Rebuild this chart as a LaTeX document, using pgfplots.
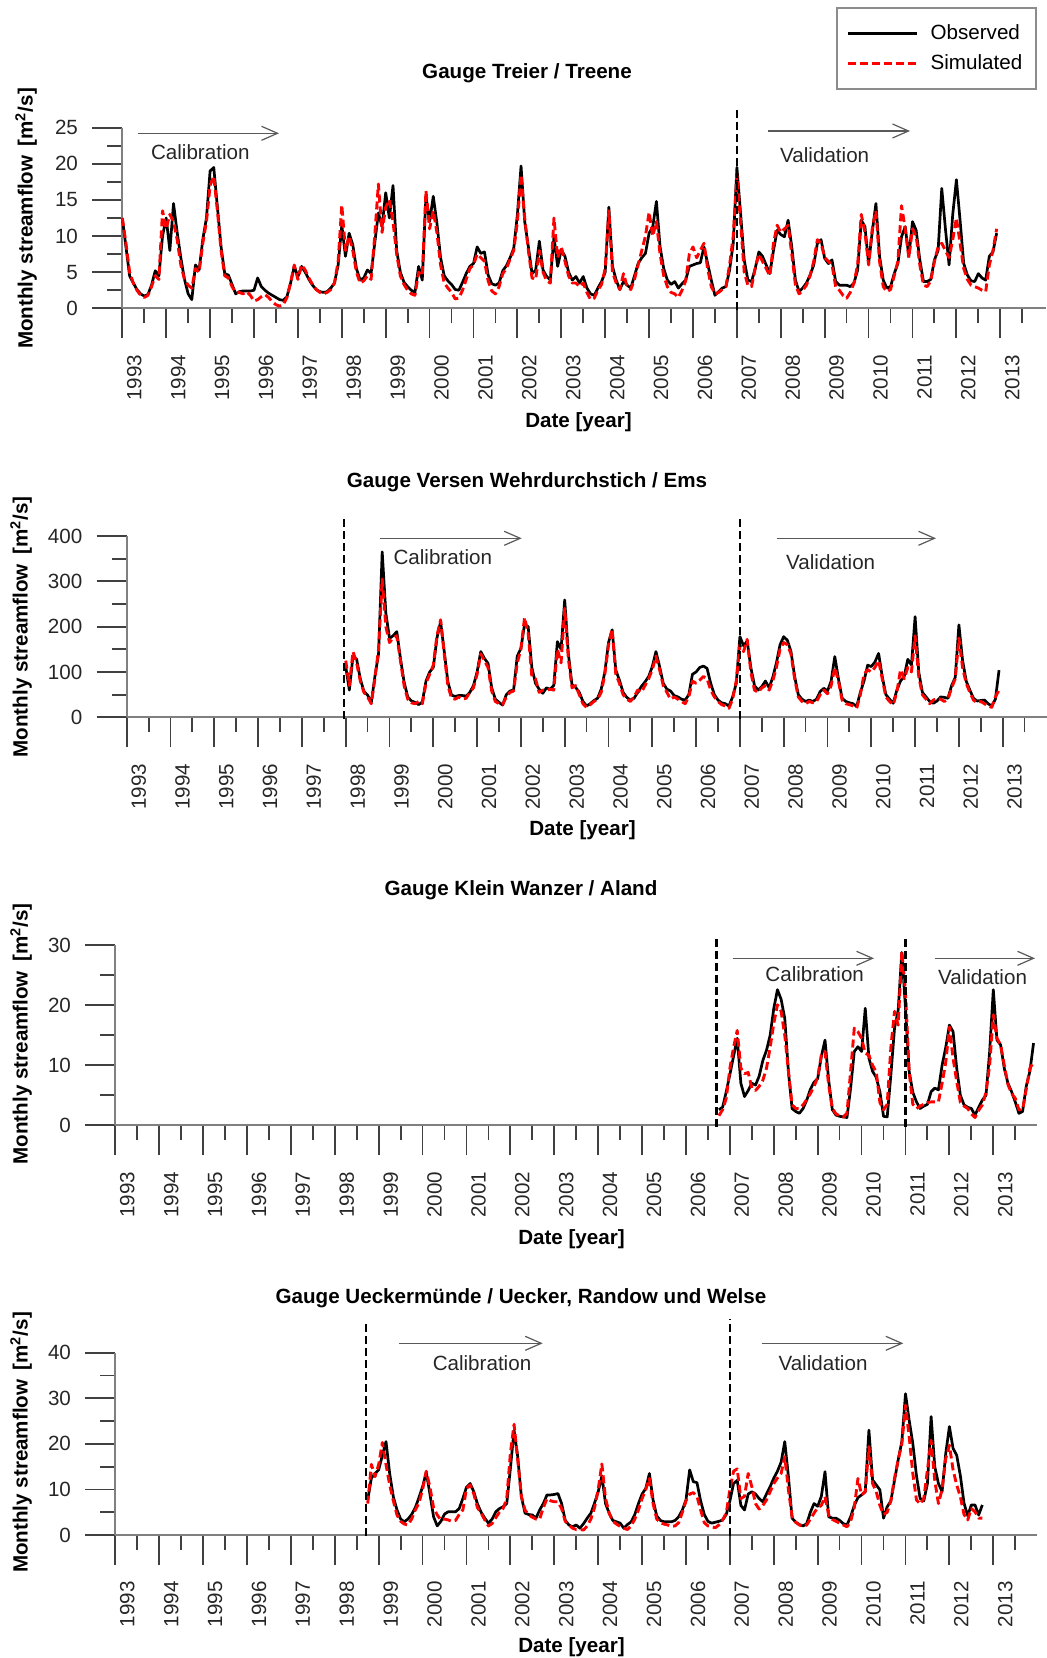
\documentclass[border=0pt]{standalone}
\usepackage{pgfplots}
\pgfplotsset{compat=1.18}
\usepackage{pgfplotstable}
\usepackage{fontspec}
\setmainfont{Liberation Sans}
\usetikzlibrary{arrows.meta}

% Monthly streamflow, observed and simulated, one table per gauge
% Treier / Treene: Jan 1993 - Dec 2012
\pgfplotstableread{
obs sim
12.5 12.5
8.5 9.0
4.5 5.0
3.5 3.5
2.6 2.5
2.0 1.8
1.7 1.5
1.9 1.8
3.2 3.0
5.2 4.5
4.5 4.0
10.0 13.5
12.5 11.0
8.0 13.0
14.5 12.0
10.5 9.5
7.0 6.0
4.0 4.0
2.0 3.2
1.2 2.8
6.0 5.5
5.3 5.0
9.5 9.0
12.5 12.0
19.0 17.0
19.5 18.3
14.0 13.5
8.5 8.0
4.8 4.5
4.6 4.2
3.3 3.0
2.0 2.2
2.3 2.2
2.4 2.0
2.4 2.3
2.4 1.8
2.5 1.0
4.2 1.2
3.0 1.6
2.5 1.9
2.1 1.5
1.8 0.9
1.5 0.5
1.2 0.3
1.1 0.5
1.6 1.5
3.5 3.5
5.8 6.0
4.4 4.0
5.8 6.0
5.0 5.3
4.0 4.2
3.2 3.3
2.6 2.6
2.3 2.2
2.2 2.0
2.3 2.2
2.8 2.6
3.5 3.5
6.0 6.5
11.5 14.3
7.2 8.0
10.4 10.0
8.8 8.0
5.5 5.0
3.9 3.5
4.2 3.8
5.3 4.5
4.8 4.0
9.0 10.0
13.2 17.2
11.3 10.5
16.0 14.0
12.5 15.0
17.0 12.0
8.0 7.5
5.0 4.5
3.6 3.3
3.0 2.5
2.5 2.0
2.2 1.8
5.8 5.0
3.9 4.5
15.5 16.3
12.0 11.0
15.5 13.5
11.8 10.5
7.0 6.0
4.5 3.5
3.8 2.8
3.3 2.2
2.6 1.3
2.5 1.4
3.6 2.5
4.8 4.0
5.8 5.5
6.2 6.0
8.5 7.5
7.6 7.0
7.8 6.5
4.6 3.8
3.4 2.4
3.2 2.0
3.5 3.0
5.2 4.8
5.9 5.5
7.0 6.8
8.3 8.0
13.0 12.0
19.7 18.5
12.0 12.5
8.5 8.0
4.8 4.2
5.3 4.0
9.3 8.0
5.3 5.0
4.4 3.8
3.9 3.5
9.9 12.5
5.8 7.0
8.1 8.5
7.2 6.5
5.0 4.5
3.9 3.5
4.4 3.5
3.5 3.0
4.4 3.5
2.8 2.2
2.0 1.2
1.8 1.4
2.8 2.5
3.7 3.3
5.0 5.5
14.0 13.5
5.8 5.0
3.9 3.5
2.6 2.6
3.7 4.8
3.2 3.0
2.8 2.6
4.5 4.0
6.2 6.0
7.0 8.0
7.6 10.0
10.4 13.3
11.3 10.0
14.8 12.0
8.5 7.5
5.5 4.5
3.9 3.0
3.3 2.2
3.7 2.0
2.8 1.5
3.4 2.5
3.9 3.8
5.8 7.5
6.0 8.5
6.2 7.0
6.3 8.0
8.5 9.0
6.2 5.5
3.9 3.0
1.8 2.0
2.3 2.2
2.8 2.6
3.0 3.0
5.3 6.0
9.0 10.0
19.5 18.5
13.2 12.0
6.7 5.0
3.9 3.2
3.7 3.0
5.5 5.5
7.8 7.5
7.2 6.5
6.0 5.5
4.8 4.5
8.0 9.0
10.8 11.5
10.2 10.5
9.9 11.0
12.2 11.5
8.5 7.5
3.9 3.2
2.3 2.0
2.8 2.5
3.5 3.2
4.6 4.5
6.0 6.5
9.0 9.5
9.5 9.0
6.9 7.0
6.2 6.5
6.7 6.0
3.7 3.0
3.2 2.5
3.2 1.8
3.2 1.4
3.0 2.2
3.5 3.5
5.3 6.0
12.2 13.0
11.3 10.5
6.2 6.0
10.6 11.0
14.5 13.5
7.2 6.5
3.9 3.0
2.8 2.3
3.0 2.6
4.8 4.5
6.2 6.5
9.9 14.2
11.3 11.0
7.2 7.0
12.0 11.0
10.8 10.0
6.7 6.0
3.7 3.2
3.7 3.0
4.0 3.8
6.7 6.5
8.0 8.5
16.6 9.0
11.0 8.0
6.0 7.0
13.0 9.5
17.8 12.5
12.2 9.0
6.2 5.5
4.6 4.0
3.8 3.2
3.7 3.0
4.8 2.8
4.2 2.5
3.9 2.3
7.2 6.0
7.8 8.0
10.4 11.0
}\treene

% Versen Wehrdurchstich / Ems: Jan 1998 - Dec 2012
\pgfplotstableread{
obs sim
112 125
60 70
135 145
128 120
85 80
57 55
49 45
32 30
90 85
140 150
365 305
230 200
174 165
180 175
189 180
130 125
78 70
45 40
36 32
33 30
28 35
34 30
80 75
100 95
110 115
175 180
211 215
145 140
78 70
49 42
46 40
48 45
48 40
47 42
55 55
70 65
100 95
145 140
130 125
119 110
65 58
40 35
33 30
27 28
50 45
58 55
60 58
135 120
152 150
205 220
200 185
110 90
75 85
62 55
53 60
65 60
62 62
70 60
167 150
150 120
259 240
140 130
72 65
66 70
55 50
35 30
25 22
30 28
37 35
42 40
62 55
100 95
165 160
193 195
104 95
82 75
55 50
44 40
38 35
42 45
55 60
68 55
78 70
90 85
112 105
145 135
112 105
75 70
62 55
58 40
48 45
45 40
40 35
38 30
50 45
95 80
100 75
110 82
113 90
108 85
75 60
50 45
38 35
32 28
30 25
25 20
45 40
75 80
178 160
158 145
168 172
110 100
70 60
60 55
68 65
80 70
65 60
88 80
120 110
160 150
178 165
170 160
145 140
90 85
50 45
40 35
35 30
38 35
35 32
40 35
57 50
64 60
58 52
80 70
134 110
85 80
42 38
35 30
32 28
30 25
24 20
55 50
80 95
115 105
112 100
122 110
141 125
90 85
50 45
40 35
31 28
60 55
80 105
90 85
128 110
115 100
222 180
100 90
55 50
45 40
35 30
31 38
36 42
45 40
44 35
42 40
70 65
88 85
204 175
126 110
80 75
60 55
42 38
36 32
37 35
38 30
30 25
25 22
40 45
104 60
}\ems

% Klein Wanzer / Aland: Oct 2006 - Dec 2013
\pgfplotstableread{
obs sim
2.6 1.6
3.0 2.6
5.6 4.5
8.5 9.5
11.5 13.0
14.5 15.8
7.0 9.5
4.8 8.6
5.8 8.8
7.0 6.2
6.7 5.8
8.2 6.5
10.8 7.5
12.5 9.5
15.0 13.0
19.5 17.0
22.6 20.1
21.0 19.0
17.8 15.0
8.9 9.0
2.8 3.4
2.3 2.8
2.0 2.8
2.8 3.4
4.2 4.3
6.0 5.3
7.2 6.5
7.8 8.0
11.5 11.7
14.2 12.3
7.5 6.7
2.6 2.8
1.7 1.9
1.5 1.6
1.4 1.4
1.3 2.0
6.2 9.0
12.3 16.2
13.1 15.6
12.3 14.5
19.5 12.0
11.2 11.7
9.0 10.0
8.0 8.9
5.6 3.8
1.5 2.6
1.4 3.5
8.4 13.0
16.2 19.0
19.2 16.7
28.8 29.0
19.5 22.3
9.0 8.9
5.5 3.5
3.9 2.8
2.8 3.2
3.2 3.5
3.5 3.8
5.6 3.9
6.2 3.9
5.9 3.9
10.0 7.0
13.0 10.5
16.7 16.4
15.6 11.2
9.5 7.3
5.0 3.8
3.4 3.2
3.0 2.8
2.8 1.9
1.7 1.3
3.0 2.5
4.2 3.4
5.0 5.5
12.3 10.0
22.6 18.4
14.2 14.5
13.4 13.4
9.5 10.0
7.0 6.8
5.6 5.3
3.9 4.5
2.0 2.6
2.3 2.6
6.5 6.0
9.0 9.5
13.7 10.5
}\aland

% Ueckermuende / Uecker, Randow und Welse: Oct 1998 - Oct 2012
\pgfplotstableread{
obs sim
7.7 6.9
12.5 15.5
13.5 12.8
14.3 15.5
17.5 20.3
20.5 15.5
13.5 11.0
8.4 7.5
5.5 4.4
3.5 3.0
2.9 2.4
3.5 2.2
4.5 3.5
6.0 5.5
8.2 7.0
10.6 10.0
13.8 14.0
9.0 10.5
4.0 6.0
2.0 4.4
3.0 3.3
4.6 3.5
5.1 3.3
5.1 3.0
5.1 3.2
5.8 4.5
8.0 5.5
10.5 10.2
11.3 11.0
9.5 9.0
6.8 6.0
5.0 4.8
3.7 3.3
2.6 2.0
3.5 2.5
5.1 3.8
5.8 5.0
6.2 5.8
6.9 8.0
14.6 18.0
23.0 24.3
17.2 16.5
8.4 8.5
4.8 5.5
4.5 4.4
4.4 3.9
3.7 3.5
5.5 3.5
6.9 6.0
8.8 8.0
8.8 7.5
8.9 7.3
9.1 7.3
6.9 5.8
3.2 3.0
2.2 2.2
1.8 1.5
2.2 1.2
1.5 1.2
2.5 1.1
3.7 2.0
4.8 3.5
7.0 6.0
9.5 10.0
13.0 15.6
6.9 8.0
4.8 4.8
3.2 3.0
2.9 2.4
2.6 1.9
1.5 1.5
2.3 1.2
2.9 2.0
4.5 3.5
6.9 5.5
9.0 8.0
10.2 10.0
13.5 12.4
7.7 6.9
4.2 3.5
3.2 2.7
2.9 2.4
2.9 2.2
2.9 1.9
3.2 2.0
4.0 2.7
5.5 5.0
7.7 7.5
14.3 9.0
11.7 9.3
11.5 8.5
7.5 5.5
4.5 2.7
3.0 2.0
2.6 1.8
2.8 1.6
3.0 2.2
3.3 3.3
4.5 4.8
7.5 10.0
11.3 14.0
12.0 14.5
6.5 8.0
5.5 8.5
9.0 13.5
9.5 10.6
9.0 6.9
8.0 5.7
7.3 6.5
9.0 7.7
10.6 9.5
12.5 11.3
14.0 12.5
16.0 13.5
20.5 17.2
12.8 9.9
3.7 4.0
2.8 2.8
2.3 2.2
2.0 1.9
2.5 2.2
5.0 3.5
6.9 4.8
6.3 6.0
8.5 6.5
13.9 8.4
4.0 4.4
3.7 3.4
3.7 3.0
3.2 2.6
2.5 2.2
2.2 1.8
4.0 3.0
6.5 6.0
8.2 12.4
8.8 8.8
9.5 9.5
23.0 19.4
12.1 11.3
11.0 9.5
9.9 6.5
3.7 4.5
6.2 5.0
7.5 7.5
12.0 12.5
16.5 16.5
20.5 20.0
31.0 28.5
25.2 21.6
20.1 13.5
13.0 7.7
8.0 6.8
7.5 8.0
11.3 14.3
26.0 20.8
15.0 12.0
11.3 6.9
9.5 10.0
17.9 16.8
23.8 19.7
19.0 14.3
17.5 11.0
13.0 8.4
7.0 4.5
4.2 3.3
6.6 5.8
6.6 5.1
4.4 3.7
6.6 3.7
}\uecker

\newcommand\txt{\fontsize{10.3}{12.4}\selectfont}

\tikzset{
  obsline/.style={black, line width=1.35pt, line join=round},
  simline/.style={red, line width=1.45pt, line join=round, dash pattern=on 4pt off 2pt},
  period/.style={black, line width=1.4pt, dash pattern=on 4pt off 2pt},
  span/.style={black!65, line width=0.6pt, -{Straight Barb[length=8pt,width=7pt]}},
  note/.style={font=\txt, text=black!85, inner sep=0pt},
  heading/.style={font=\txt\bfseries, inner sep=0pt},
}

\pgfplotsset{
  gauge/.style={
    scale only axis, anchor=south west, clip=false, no markers,
    axis x line*=bottom, axis y line*=left,
    xmin=1993,
    xtick={1993,...,2013},
    minor xtick={1993.5,1994.5,...,2013.5},
    tick align=outside,
    major tick length=15pt, minor tick length=7.5pt,
    tick style={black!75, line width=0.9pt},
    axis line style={black!50, line width=1pt},
    tick label style={font=\txt, text=black!85},
    xticklabel style={rotate=90, anchor=east, inner sep=0pt, yshift=-6pt},
    xticklabel shift=8pt,
    yticklabel style={inner sep=0pt},
    yticklabel shift=7pt,
    /pgf/number format/1000 sep={},
    /pgf/number format/assume math mode=true,
  },
}

\begin{document}
\begin{tikzpicture}[font=\txt]
\useasboundingbox (0,0) rectangle (523.5pt,-829pt);

% ---- Treier / Treene ----
\begin{axis}[gauge, at={(61.15pt,-154.15pt)}, width=462.05pt, height=90.3pt,
  xmax=2014.05, ymin=0, ymax=25,
  ytick={0,5,...,25}, minor ytick={2.5,7.5,...,22.5},
  legend style={at={(0.772,1.670)}, anchor=north west, draw=black!45,
    line width=1pt, inner xsep=5pt, inner ysep=6.3pt, row sep=2pt,
    font=\txt, cells={anchor=west},
    /tikz/every odd column/.append style={column sep=4pt}},
  legend image code/.code={\draw[#1] (0pt,0pt) -- (34.5pt,0pt);},
]
\addplot[obsline] table[x expr=1993+\coordindex/12, y=obs] {\treene};
\addplot[simline] table[x expr=1993+\coordindex/12, y=sim] {\treene};
\legend{Observed, Simulated}
\draw[period] (axis cs:2007,-0.3) -- (axis cs:2007,27.7);
\end{axis}
\node[heading] at (263.5pt,-36.5pt) {Gauge Treier / Treene};
\node[heading] at (289.25pt,-210.85pt) {Date [year]};
\node[heading, rotate=90] at (13pt,-109.25pt) {Monthly streamflow\, [m\textsuperscript{2}/s]};
\draw[span] (68.85pt,-66.65pt) -- (139.5pt,-66.65pt);
\node[note] at (100.15pt,-75.85pt) {Calibration};
\draw[span] (384.15pt,-65.5pt) -- (455pt,-65.5pt);
\node[note] at (412.35pt,-77.5pt) {Validation};

% ---- Versen Wehrdurchstich / Ems ----
\begin{axis}[gauge, at={(63.35pt,-358.65pt)}, width=459.9pt, height=90.65pt,
  xmax=2014.0, ymin=0, ymax=400,
  ytick={0,100,...,400}, minor ytick={50,150,...,350},
]
\addplot[obsline] table[x expr=1998+\coordindex/12, y=obs] {\ems};
\addplot[simline] table[x expr=1998+\coordindex/12, y=sim] {\ems};
\draw[period] (axis cs:1997.96,-3) -- (axis cs:1997.96,437);
\draw[period] (axis cs:2007,-3) -- (axis cs:2007,446);
\end{axis}
\node[heading] at (263.5pt,-241.35pt) {Gauge Versen Wehrdurchstich / Ems};
\node[heading] at (291.25pt,-415pt) {Date [year]};
\node[heading, rotate=90] at (10.5pt,-313.5pt) {Monthly streamflow\, [m\textsuperscript{2}/s]};
\draw[span] (190pt,-269.15pt) -- (260.85pt,-269.15pt);
\node[note] at (221.4pt,-278.35pt) {Calibration};
\draw[span] (388.35pt,-269.15pt) -- (468pt,-269.15pt);
\node[note] at (415.35pt,-280.85pt) {Validation};

% ---- Klein Wanzer / Aland ----
\begin{axis}[gauge, at={(57.65pt,-562.65pt)}, width=460.95pt, height=90pt,
  xmax=2014.0, ymin=0, ymax=30,
  ytick={0,10,20,30}, minor ytick={5,15,25},
]
\addplot[obsline] table[x expr=2006.75+\coordindex/12, y=obs] {\aland};
\addplot[simline] table[x expr=2006.75+\coordindex/12, y=sim] {\aland};
\draw[period] (axis cs:2006.70,-0.2) -- (axis cs:2006.70,31.0);
\draw[period] (axis cs:2011,-0.2) -- (axis cs:2011,31.4);
\end{axis}
\node[heading] at (260.5pt,-445.35pt) {Gauge Klein Wanzer / Aland};
\node[heading] at (285.75pt,-619.5pt) {Date [year]};
\node[heading, rotate=90] at (10.5pt,-517pt) {Monthly streamflow\, [m\textsuperscript{2}/s]};
\draw[span] (366.35pt,-479.15pt) -- (437pt,-479.15pt);
\node[note] at (407.35pt,-487.15pt) {Calibration};
\draw[span] (467.5pt,-479.15pt) -- (517.5pt,-479.15pt);
\node[note] at (491.25pt,-488.35pt) {Validation};

% ---- Ueckermuende / Uecker, Randow und Welse ----
\begin{axis}[gauge, at={(57.65pt,-767.5pt)}, width=460.95pt, height=91.15pt,
  xmax=2014.0, ymin=0, ymax=40,
  ytick={0,10,...,40}, minor ytick={5,15,25,35},
]
\addplot[obsline] table[x expr=1998.75+\coordindex/12, y=obs] {\uecker};
\addplot[simline] table[x expr=1998.75+\coordindex/12, y=sim] {\uecker};
\draw[period] (axis cs:1998.71,-0.2) -- (axis cs:1998.71,47.0);
\draw[period] (axis cs:2007,-0.2) -- (axis cs:2007,47.3);
\end{axis}
\node[heading] at (260.5pt,-649.15pt) {Gauge Ueckermünde / Uecker, Randow und Welse};
\node[heading] at (285.75pt,-823.35pt) {Date [year]};
\node[heading, rotate=90] at (10.5pt,-721.25pt) {Monthly streamflow\, [m\textsuperscript{2}/s]};
\draw[span] (199.65pt,-671.65pt) -- (271.35pt,-671.65pt);
\node[note] at (241pt,-681.35pt) {Calibration};
\draw[span] (380.85pt,-671.65pt) -- (451.65pt,-671.65pt);
\node[note] at (411.5pt,-681.65pt) {Validation};
\end{tikzpicture}
\end{document}
